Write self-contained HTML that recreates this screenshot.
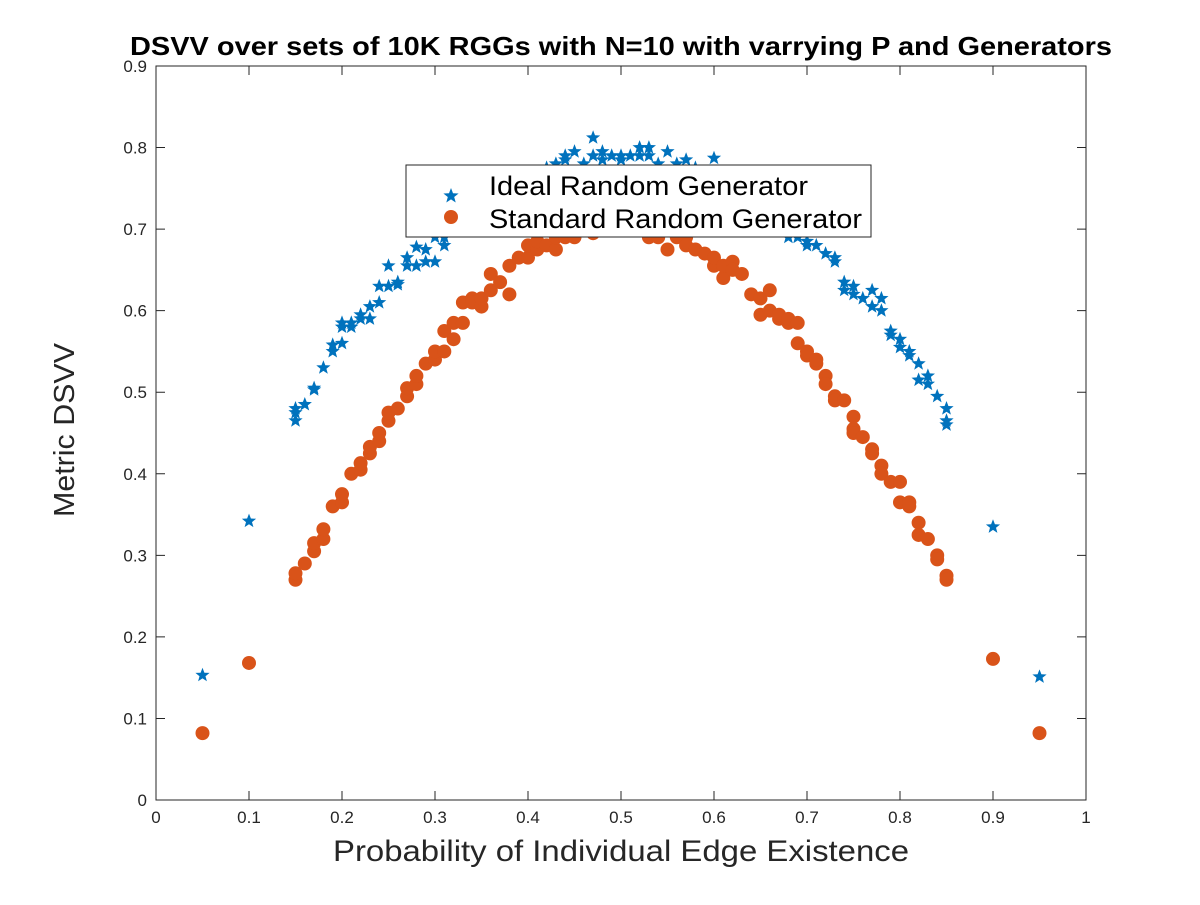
<!DOCTYPE html>
<html><head><meta charset="utf-8"><style>
body{margin:0;background:#fff;}
svg text{font-family:"Liberation Sans",sans-serif;}
</style></head><body>
<svg id="chart" width="1200" height="900" xmlns="http://www.w3.org/2000/svg">
<rect width="1200" height="900" fill="#fff"/>
<g id="marks"></g>
<rect x="156" y="66" width="930" height="734" fill="none" stroke="#262626" stroke-width="1"/>
<g id="ticks"></g>
<text x="130" y="55" font-size="26" font-weight="bold" textLength="982" lengthAdjust="spacingAndGlyphs">DSVV over sets of 10K RGGs with N=10 with varrying P and Generators</text>
<text x="333" y="861" font-size="30" fill="#262626" textLength="576" lengthAdjust="spacingAndGlyphs">Probability of Individual Edge Existence</text>
<text transform="translate(74,517) rotate(-90)" font-size="29" fill="#262626" textLength="174" lengthAdjust="spacingAndGlyphs">Metric DSVV</text>
<g>
<rect x="406" y="165" width="465" height="72" fill="#fff" stroke="#262626"/>
<path d="" id="legStar" fill="#0072BD"/>
<circle cx="451" cy="217" r="7" fill="#D95319"/>
<text x="489" y="195" font-size="27" textLength="319" lengthAdjust="spacingAndGlyphs">Ideal Random Generator</text>
<text x="489" y="228" font-size="27" textLength="373" lengthAdjust="spacingAndGlyphs">Standard Random Generator</text>
</g>
</svg>
<script>
const idealX=[0.05,0.10,0.15,0.15,0.15,0.16,0.17,0.17,0.18,0.19,0.19,0.20,0.20,0.20,0.21,0.21,0.22,0.22,0.23,0.23,0.24,0.24,0.25,0.25,0.26,0.26,0.27,0.27,0.28,0.28,0.29,0.29,0.30,0.30,0.31,0.31,0.32,0.33,0.34,0.35,0.36,0.37,0.38,0.39,0.40,0.41,0.42,0.43,0.44,0.44,0.45,0.46,0.47,0.47,0.48,0.48,0.49,0.50,0.50,0.51,0.52,0.52,0.53,0.53,0.54,0.55,0.56,0.57,0.58,0.59,0.60,0.61,0.62,0.63,0.64,0.65,0.66,0.67,0.68,0.69,0.70,0.70,0.71,0.72,0.73,0.73,0.74,0.74,0.75,0.75,0.76,0.77,0.77,0.78,0.78,0.79,0.79,0.80,0.80,0.81,0.81,0.82,0.82,0.83,0.83,0.84,0.85,0.85,0.85,0.90,0.95];
const idealY=[0.153,0.342,0.465,0.475,0.48,0.485,0.505,0.503,0.53,0.55,0.558,0.56,0.58,0.585,0.58,0.585,0.595,0.59,0.605,0.59,0.61,0.63,0.655,0.63,0.632,0.635,0.655,0.665,0.655,0.678,0.66,0.675,0.66,0.69,0.68,0.69,0.70,0.71,0.72,0.73,0.74,0.745,0.75,0.76,0.765,0.77,0.775,0.78,0.79,0.785,0.795,0.78,0.812,0.79,0.795,0.785,0.79,0.785,0.79,0.79,0.80,0.79,0.80,0.79,0.78,0.795,0.78,0.785,0.775,0.77,0.787,0.76,0.755,0.75,0.74,0.73,0.72,0.71,0.69,0.69,0.68,0.685,0.68,0.67,0.665,0.66,0.635,0.625,0.63,0.62,0.615,0.625,0.605,0.615,0.60,0.575,0.57,0.565,0.555,0.545,0.55,0.535,0.515,0.52,0.51,0.495,0.48,0.465,0.46,0.335,0.151];
const stdX=[0.05,0.10,0.15,0.15,0.16,0.17,0.17,0.18,0.18,0.19,0.20,0.20,0.21,0.22,0.22,0.23,0.23,0.24,0.24,0.25,0.25,0.26,0.27,0.27,0.28,0.28,0.29,0.30,0.30,0.31,0.31,0.32,0.32,0.33,0.33,0.34,0.34,0.35,0.35,0.36,0.36,0.37,0.38,0.38,0.39,0.40,0.40,0.41,0.41,0.42,0.43,0.43,0.44,0.45,0.45,0.46,0.47,0.48,0.49,0.50,0.51,0.52,0.53,0.54,0.55,0.56,0.57,0.57,0.58,0.59,0.60,0.60,0.61,0.61,0.62,0.62,0.63,0.64,0.65,0.65,0.66,0.66,0.67,0.67,0.68,0.68,0.69,0.69,0.70,0.70,0.71,0.71,0.72,0.72,0.73,0.73,0.74,0.75,0.75,0.75,0.76,0.77,0.77,0.78,0.78,0.79,0.80,0.80,0.81,0.81,0.82,0.82,0.83,0.84,0.84,0.85,0.85,0.90,0.95];
const stdY=[0.082,0.168,0.27,0.278,0.29,0.305,0.315,0.32,0.332,0.36,0.365,0.375,0.40,0.405,0.413,0.425,0.433,0.44,0.45,0.465,0.475,0.48,0.495,0.505,0.51,0.52,0.535,0.54,0.55,0.55,0.575,0.565,0.585,0.585,0.61,0.615,0.61,0.605,0.615,0.625,0.645,0.635,0.62,0.655,0.665,0.665,0.68,0.675,0.685,0.68,0.675,0.69,0.69,0.695,0.69,0.70,0.695,0.70,0.70,0.70,0.70,0.70,0.69,0.69,0.675,0.69,0.69,0.68,0.675,0.67,0.655,0.665,0.64,0.655,0.66,0.65,0.645,0.62,0.595,0.615,0.625,0.60,0.59,0.595,0.585,0.59,0.56,0.585,0.545,0.55,0.535,0.54,0.52,0.51,0.495,0.49,0.49,0.47,0.455,0.45,0.445,0.43,0.425,0.41,0.40,0.39,0.39,0.365,0.36,0.365,0.34,0.325,0.32,0.30,0.295,0.275,0.27,0.173,0.082];
const xTicks=[0,0.1,0.2,0.3,0.4,0.5,0.6,0.7,0.8,0.9,1];
const xTickLabels=["0","0.1","0.2","0.3","0.4","0.5","0.6","0.7","0.8","0.9","1"];
const yTicks=[0,0.1,0.2,0.3,0.4,0.5,0.6,0.7,0.8,0.9];
const yTickLabels=["0","0.1","0.2","0.3","0.4","0.5","0.6","0.7","0.8","0.9"];
const NS="http://www.w3.org/2000/svg";
const X0=156,X1=1086,Y0=800,Y1=66;
function sx(v){return X0+(X1-X0)*v;}
function sy(v){return Y0-(Y0-Y1)*v/0.9;}
function starPath(cx,cy,R){const r=R*0.42;let d="";for(let i=0;i<10;i++){const a=-Math.PI/2+i*Math.PI/5;const rr=i%2?r:R;d+=(i?"L":"M")+(cx+rr*Math.cos(a)).toFixed(1)+","+(cy+rr*Math.sin(a)).toFixed(1);}return d+"Z";}
const marks=document.getElementById('marks');
document.getElementById('legStar').setAttribute('d',starPath(451,196,8));
for(let i=0;i<stdX.length;i++){
 const c=document.createElementNS(NS,'circle');
 
 
 c.setAttribute('cx',sx(stdX[i]));c.setAttribute('cy',sy(stdY[i]));c.setAttribute('r',7);c.setAttribute('fill','#D95319');
 marks.appendChild(c);
}
for(let i=0;i<idealX.length;i++){
 const p=document.createElementNS(NS,'path');
 
 
 p.setAttribute('d',starPath(sx(idealX[i]),sy(idealY[i]),7.5));p.setAttribute('fill','#0072BD');
 marks.appendChild(p);
}
const tg=document.getElementById('ticks');
xTicks.forEach((v,i)=>{
 const x=sx(v);
 const l=document.createElementNS(NS,'path');
 
 
 l.setAttribute('d',`M${x},${Y0}v-9M${x},${Y1}v9`);l.setAttribute('stroke','#262626');
 tg.appendChild(l);
 const t=document.createElementNS(NS,'text');
 
 
 t.setAttribute('x',x);t.setAttribute('y',Y0+23);t.setAttribute('text-anchor','middle');t.setAttribute('font-size','17');t.setAttribute('fill','#262626');
 t.textContent=xTickLabels[i];tg.appendChild(t);
});
yTicks.forEach((v,i)=>{
 const y=sy(v);
 const l=document.createElementNS(NS,'path');
 
 
 l.setAttribute('d',`M${X0},${y}h9M${X1},${y}h-9`);l.setAttribute('stroke','#262626');
 tg.appendChild(l);
 const t=document.createElementNS(NS,'text');
 
 
 t.setAttribute('x',X0-9);t.setAttribute('y',y+6);t.setAttribute('text-anchor','end');t.setAttribute('font-size','17');t.setAttribute('fill','#262626');
 t.textContent=yTickLabels[i];tg.appendChild(t);
});
</script>
</body></html>
